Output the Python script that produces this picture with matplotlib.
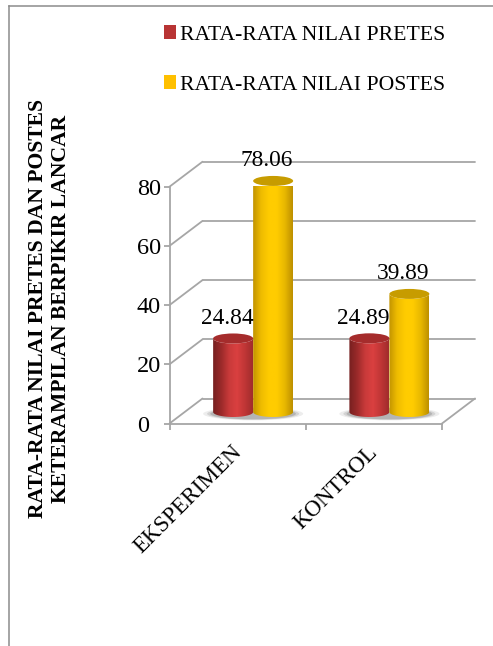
import matplotlib
matplotlib.use("Agg")
import matplotlib.pyplot as plt
import numpy as np
from matplotlib.colors import LinearSegmentedColormap
from matplotlib.patches import Ellipse, Patch, PathPatch
from matplotlib.path import Path
from matplotlib.lines import Line2D

categories = ["EKSPERIMEN", "KONTROL"]
pretes = [24.84, 24.89]
postes = [78.06, 39.89]
y_ticks = [0, 20, 40, 60, 80]
series_names = ["RATA-RATA NILAI PRETES", "RATA-RATA NILAI POSTES"]

plt.rcParams["font.family"] = ["Liberation Serif", "DejaVu Serif"]

W, H = 493, 646
GREY = "#a6a6a6"

fig = plt.figure(figsize=(W / 100, H / 100), dpi=100, facecolor="white")

# frame around the chart area, only top and left are in view
fig.add_artist(Line2D([8.5 / W, 8.5 / W], [0, 1 - 5.5 / H], color="#8c8c8c", lw=1.1))
fig.add_artist(Line2D([8.5 / W, 1], [1 - 5.5 / H, 1 - 5.5 / H], color="#8c8c8c", lw=1.1))

ax = fig.add_axes([169.5 / W, 1 - 423.5 / H, 272.5 / W, 236.8 / H])
ax.set_xlim(0, 2)
ax.set_ylim(0, 80)
ax.patch.set_alpha(0)
for s in ["top", "right"]:
    ax.spines[s].set_visible(False)
for s in ["left", "bottom"]:
    ax.spines[s].set_color(GREY)
    ax.spines[s].set_linewidth(1.3)

# depth of the fake 3d box, in data units
dx = 33 / 136.25
dy = 25 / 2.96

line_kw = dict(color=GREY, lw=1.3, clip_on=False, solid_capstyle="round")
for v in y_ticks:
    ax.plot([0, dx], [v, v + dy], **line_kw)
    ax.plot([dx, 2 + dx], [v + dy, v + dy], **line_kw)
ax.plot([2, 2 + dx], [0, dy], **line_kw)

ax.set_yticks(y_ticks)
ax.set_xticks([0, 1, 2])
ax.set_xticklabels([])
ax.tick_params(axis="both", color=GREY, width=1.3, length=4.5)
# y labels share a left edge
ax.tick_params(axis="y", labelsize=17.5, pad=19)
for lab in ax.get_yticklabels():
    lab.set_horizontalalignment("left")

for i, name in enumerate(categories):
    ax.annotate(name, (i + 0.5, 0), xytext=(-5, -13), textcoords="offset points",
                rotation=45, ha="right", va="top", rotation_mode="anchor", fontsize=16.4)

red_cmap = LinearSegmentedColormap.from_list(
    "red3d", ["#762020", "#9a2a2a", "#c83a3a", "#da4040", "#c03636", "#a02c2c"])
yellow_cmap = LinearSegmentedColormap.from_list(
    "yellow3d", ["#c29400", "#eebc00", "#ffcc00", "#ffcc00", "#e8b800", "#bd9000"])
shade = np.linspace(0, 1, 128).reshape(1, -1)

half_w = 20 / 136.25
half_h = 5 / 2.96
base = dy * 0.46
shift = dx * 0.47


def cylinder(xc, value, cmap, top_color):
    arc = np.linspace(np.pi, 2 * np.pi, 40)
    xs = xc + half_w * np.cos(arc)
    low = base + half_h * np.sin(arc)
    high = base + value + half_h * np.sin(arc)
    verts = np.vstack([np.column_stack([xs, low]),
                       np.column_stack([xs[::-1], high[::-1]]),
                       [[xs[0], low[0]]]])
    codes = [Path.MOVETO] + [Path.LINETO] * (len(verts) - 2) + [Path.CLOSEPOLY]
    body = PathPatch(Path(verts, codes), transform=ax.transData, fc="none", ec="none",
                     clip_on=False)
    ax.add_patch(body)
    im = ax.imshow(shade, cmap=cmap, aspect="auto", zorder=3,
                   extent=[xc - half_w, xc + half_w, base - half_h, base + value + half_h])
    im.set_clip_box(None)
    im.set_clip_path(body)
    ax.add_patch(Ellipse((xc, base + value), 2 * half_w, 2 * half_h, fc=top_color,
                         ec="none", zorder=3.1, clip_on=False))


for i in range(2):
    center = i + 0.5 + shift
    # soft shadow under each pair
    for grow, a in [(1.25, 0.12), (1.15, 0.2), (1.07, 0.3)]:
        ax.add_patch(Ellipse((center, base - 0.6), 4 * half_w * grow, 2 * half_h * grow * 1.05,
                             fc="#6e6e6e", ec="none", alpha=a, zorder=2.5))
    cylinder(center - half_w, pretes[i], red_cmap, "#a52c2c")
    cylinder(center + half_w, postes[i], yellow_cmap, "#c79c00")
    for xc, val in [(center - half_w, pretes[i]), (center + half_w, postes[i])]:
        ax.annotate(f"{val:.2f}", (xc, base + val), xytext=(-4.5, 14.5),
                    textcoords="offset points", ha="center", va="center",
                    fontsize=16.8, zorder=5, annotation_clip=False)

ax.set_xlim(0, 2)
ax.set_ylim(0, 80)

handles = [Patch(fc="#b83434"), Patch(fc="#ffc000")]
fig.legend(handles, series_names, loc="upper left", bbox_to_anchor=(146.5 / W, 1 - 8 / H),
           frameon=False, fontsize=15.7, handlelength=0.53, handleheight=0.6,
           handletextpad=0.2, labelspacing=1.38, borderpad=0.3)

fig.text(49.5 / W, 1 - 309 / H,
         "RATA-RATA NILAI PRETES DAN POSTES\nKETERAMPILAN BERPIKIR LANCAR",
         rotation=90, ha="center", va="center", ma="center", fontsize=15.6,
         fontweight="bold", linespacing=1.2)

fig.savefig("out.png", dpi=100)
